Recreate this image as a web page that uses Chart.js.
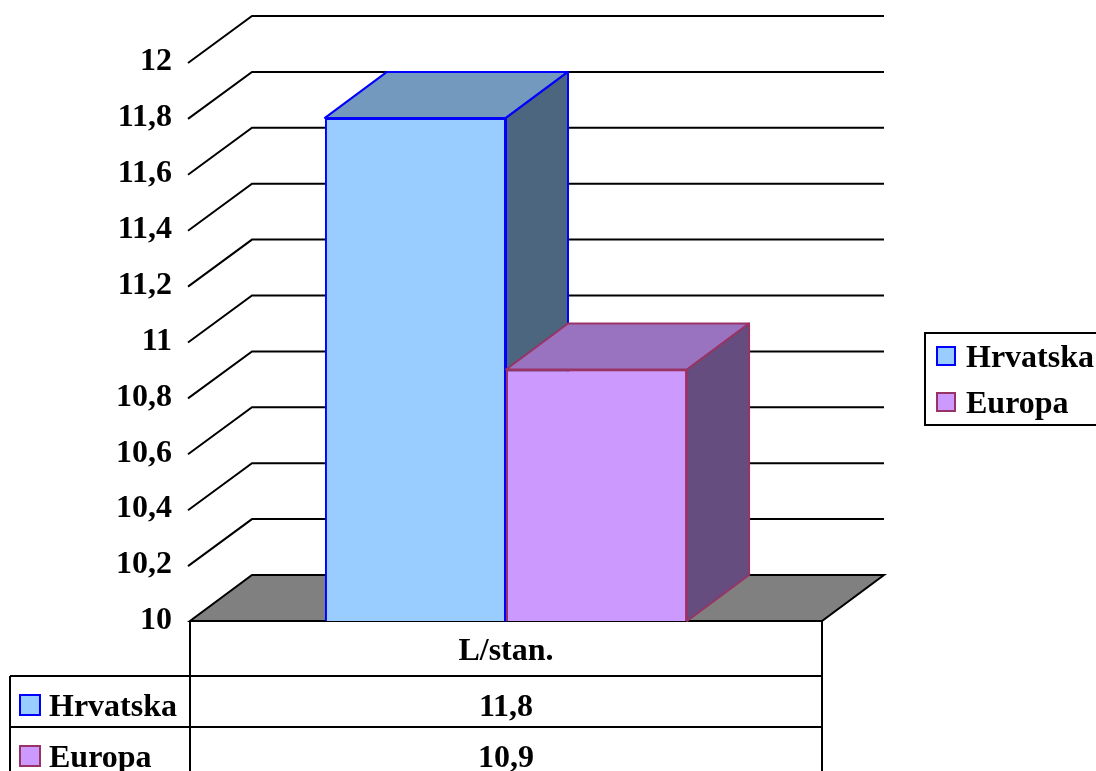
<!DOCTYPE html>
<html lang="hr">
<head>
    <meta charset="UTF-8">
    <title>L/stan.</title>
    <script src="https://cdn.jsdelivr.net/npm/chart.js"></script>
    <style>
        body {
            margin: 0;
            padding: 0;
            background-color: #ffffff;
        }
        #chart-container {
            width: 1096px;
            height: 771px;
            position: relative;
        }
    </style>
</head>
<body>
    <div id="chart-container">
        <canvas id="myChart"></canvas>
    </div>

    <script>
        // Podaci
        const categories = ['L/stan.'];
        const seriesNames = ['Hrvatska', 'Europa'];
        const hrvatskaValues = [11.8];
        const europaValues = [10.9];
        const yMin = 10;
        const yMax = 12;
        const yStep = 0.2;

        // Boje
        const frontColors = ['#99CCFF', '#CC99FF'];
        const borderColors = ['#0000FF', '#993366'];
        const topColors = ['#7399BF', '#9973BF'];
        const sideColors = ['#4C6680', '#664D80'];

        const FONT_FAMILY = "'Liberation Serif', 'Times New Roman', serif";
        const FONT = "bold 32px " + FONT_FAMILY;
        const depth = { dx: 62, dy: -46 };

        function fmt(v) {
            return (Math.round(v * 10) / 10).toString().replace('.', ',');
        }

        function poly(ctx, pts) {
            ctx.beginPath();
            ctx.moveTo(pts[0][0], pts[0][1]);
            for (let i = 1; i < pts.length; i++) ctx.lineTo(pts[i][0], pts[i][1]);
            ctx.closePath();
        }

        // 3D pod, mreza, plohe stupaca, tablica i legenda
        const threeD = {
            id: 'threeD',
            beforeDatasetsDraw(chart) {
                const { ctx, chartArea: a, scales: { y } } = chart;
                const { dx, dy } = depth;
                ctx.save();
                ctx.lineWidth = 2;
                ctx.strokeStyle = '#000000';

                // pod
                const yb = y.getPixelForValue(y.min);
                poly(ctx, [[a.left, yb], [a.right, yb], [a.right + dx, yb + dy], [a.left + dx, yb + dy]]);
                ctx.fillStyle = '#808080';
                ctx.fill();
                ctx.stroke();

                // linije mreze
                y.ticks.forEach(t => {
                    if (t.value <= y.min) return;
                    const p = y.getPixelForValue(t.value);
                    ctx.beginPath();
                    ctx.moveTo(a.left - 2, p + 1);
                    ctx.lineTo(a.left + dx, p + dy);
                    ctx.lineTo(a.right + dx, p + dy);
                    ctx.stroke();
                });
                ctx.restore();
            },
            afterDatasetsDraw(chart) {
                const { ctx, chartArea: a, scales: { y } } = chart;
                const { dx, dy } = depth;
                const floor = y.getPixelForValue(y.min);
                // redom: prvi skup pa drugi, da drugi prekrije bocnu plohu prvog
                chart.data.datasets.forEach((ds, i) => {
                    const meta = chart.getDatasetMeta(i);
                    meta.data.forEach(bar => {
                        ctx.save();
                        ctx.beginPath();
                        ctx.rect(a.left, a.top, a.right - a.left, a.bottom - a.top);
                        ctx.clip();
                        bar.draw(ctx);
                        ctx.restore();

                        const l = bar.x - bar.width / 2;
                        const r = bar.x + bar.width / 2;
                        const t = bar.y;
                        const b = Math.min(bar.base, floor);
                        ctx.save();
                        ctx.lineWidth = 2;
                        ctx.lineJoin = 'round';
                        ctx.strokeStyle = borderColors[i];
                        poly(ctx, [[l, t], [r, t], [r + dx, t + dy], [l + dx, t + dy]]);
                        ctx.fillStyle = topColors[i];
                        ctx.fill();
                        ctx.stroke();
                        poly(ctx, [[r, t], [r + dx, t + dy], [r + dx, b + dy], [r, b]]);
                        ctx.fillStyle = sideColors[i];
                        ctx.fill();
                        ctx.stroke();
                        ctx.restore();
                    });
                });
            },
            afterDraw(chart) {
                const { ctx, chartArea: a } = chart;
                const values = [hrvatskaValues, europaValues];
                const top = a.bottom;
                const headerH = 55;
                const rowH = 51;
                const leftX = 10;
                const midX = (a.left + a.right) / 2;
                ctx.save();
                ctx.lineWidth = 2;
                ctx.strokeStyle = '#000000';

                // tablica podataka
                ctx.beginPath();
                ctx.moveTo(a.left, top); ctx.lineTo(a.left, chart.height);
                ctx.moveTo(a.right, top); ctx.lineTo(a.right, chart.height);
                ctx.moveTo(leftX, top + headerH); ctx.lineTo(leftX, chart.height);
                for (let r = 0; r < seriesNames.length; r++) {
                    const yy = top + headerH + r * rowH;
                    ctx.moveTo(leftX, yy); ctx.lineTo(a.right, yy);
                }
                ctx.stroke();

                ctx.font = FONT;
                ctx.fillStyle = '#000000';
                ctx.textBaseline = 'alphabetic';
                ctx.textAlign = 'center';
                ctx.fillText(categories[0], midX, top + 39);
                seriesNames.forEach((name, r) => {
                    const base = top + headerH + r * rowH + 40;
                    ctx.textAlign = 'center';
                    ctx.fillStyle = '#000000';
                    ctx.fillText(fmt(values[r][0]), midX, base);
                    // kljuc u tablici
                    ctx.fillStyle = frontColors[r];
                    ctx.fillRect(20, base - 21, 20, 20);
                    ctx.strokeStyle = borderColors[r];
                    ctx.strokeRect(20, base - 21, 20, 20);
                    ctx.fillStyle = '#000000';
                    ctx.textAlign = 'left';
                    ctx.fillText(name, 49, base);
                });

                // legenda desno
                ctx.strokeStyle = '#000000';
                ctx.strokeRect(925, 333, 200, 92);
                seriesNames.forEach((name, r) => {
                    const base = 367 + r * 46;
                    ctx.fillStyle = frontColors[r];
                    ctx.fillRect(937, base - 20, 18, 18);
                    ctx.strokeStyle = borderColors[r];
                    ctx.strokeRect(937, base - 20, 18, 18);
                    ctx.fillStyle = '#000000';
                    ctx.textAlign = 'left';
                    ctx.fillText(name, 966, base);
                });
                ctx.restore();
            }
        };

        const ctx = document.getElementById('myChart').getContext('2d');
        const myChart = new Chart(ctx, {
            type: 'bar',
            data: {
                labels: categories,
                datasets: [
                    {
                        label: seriesNames[0],
                        data: hrvatskaValues,
                        backgroundColor: frontColors[0],
                        borderColor: borderColors[0],
                        borderWidth: 2
                    },
                    {
                        label: seriesNames[1],
                        data: europaValues,
                        backgroundColor: frontColors[1],
                        borderColor: borderColors[1],
                        borderWidth: 2
                    }
                ]
            },
            options: {
                responsive: true,
                maintainAspectRatio: false,
                animation: false,
                categoryPercentage: 0.573,
                barPercentage: 1,
                layout: {
                    padding: { top: 62, bottom: 150, left: 0, right: 274 }
                },
                scales: {
                    x: {
                        display: false
                    },
                    y: {
                        min: yMin,
                        max: yMax,
                        border: { display: false },
                        grid: { display: false, drawTicks: false },
                        ticks: {
                            stepSize: yStep,
                            padding: 18,
                            color: '#000000',
                            font: { family: FONT_FAMILY, size: 32, weight: 'bold' },
                            callback: v => fmt(v)
                        },
                        afterFit(scale) {
                            scale.width = 190;
                        }
                    }
                },
                plugins: {
                    legend: { display: false },
                    tooltip: { enabled: false },
                    title: { display: false }
                }
            },
            plugins: [threeD]
        });
    </script>
</body>
</html>
